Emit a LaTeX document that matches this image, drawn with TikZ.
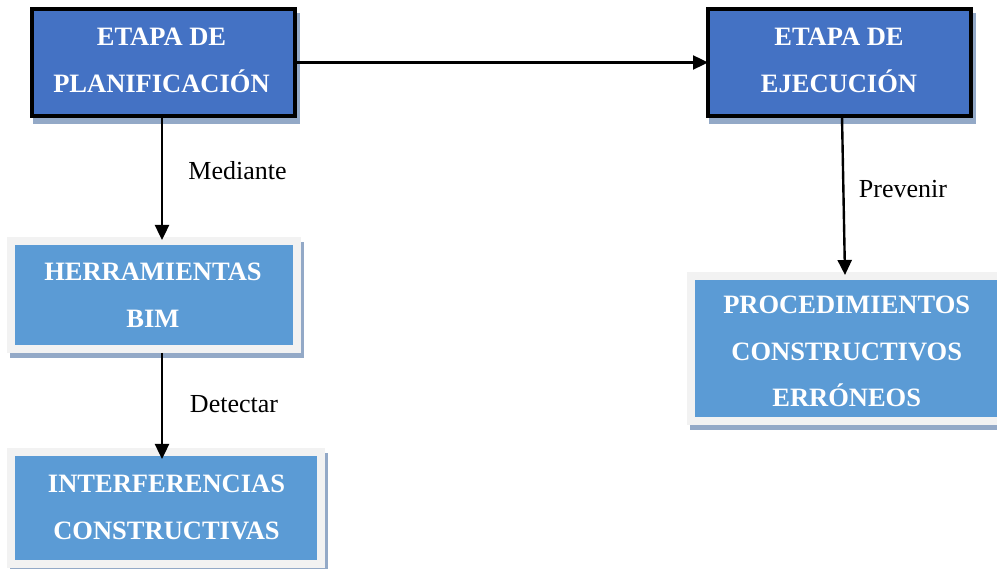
\documentclass[tikz,border=0pt]{standalone}
\usepackage{fontspec}
\setmainfont{Liberation Serif}
\usetikzlibrary{arrows.meta,backgrounds,calc}
\definecolor{darkblue}{HTML}{4472C4}
\definecolor{lightblue}{HTML}{5B9BD5}
\definecolor{framegrey}{HTML}{F2F2F2}
\definecolor{shadowc}{HTML}{93A9C7}
\begin{document}
\begin{tikzpicture}[x=1pt,y=-1pt,
  darkbox/.style={draw=black, line width=4pt, fill=darkblue, minimum width=263pt, minimum height=107pt, inner sep=0pt, outer sep=0pt},
  lightbox/.style={fill=framegrey, inner sep=0pt, outer sep=0pt},
  boxtext/.style={text=white, align=center, font=\fontsize{26.5}{46.5}\selectfont\bfseries, inner sep=0pt},
  lbl/.style={font=\fontsize{26}{30}\selectfont, anchor=base, inner sep=0pt},
  conn/.style={line width=2.4pt, -{Triangle[width=14pt,length=15pt]}}
]
\useasboundingbox (0,0) rectangle (997,569);

% boxes
\node[darkbox] (p) at (163.5,62.5) {};
\node[darkbox] (e) at (839.5,62.5) {};
\node[lightbox, minimum width=294pt, minimum height=116pt] (h) at (154,295) {};
\node[lightbox, minimum width=318pt, minimum height=120pt] (i) at (166,508) {};
\node[lightbox, minimum width=319pt, minimum height=153pt] (r) at (846.5,348.5) {};

\fill[lightblue] ([shift={(8,8)}]h.north west) rectangle ([shift={(-8,-8)}]h.south east);
\fill[lightblue] ([shift={(8,8)}]i.north west) rectangle ([shift={(-8,-8)}]i.south east);
\fill[lightblue] ([shift={(8,8)}]r.north west) rectangle ([shift={(-8,-8)}]r.south east);

% shadows
\begin{scope}[on background layer]
\fill[shadowc] ([shift={(1,4)}]p.north west) rectangle ([shift={(5,8)}]p.south east);
\fill[shadowc] ([shift={(1,4)}]e.north west) rectangle ([shift={(5,8)}]e.south east);
\fill[shadowc] ([shift={(3,5)}]h.north west) rectangle ([shift={(3,5)}]h.south east);
\fill[shadowc] ([shift={(3,5)}]i.north west) rectangle ([shift={(3,5)}]i.south east);
\fill[shadowc] ([shift={(3,5)}]r.north west) rectangle ([shift={(3,5)}]r.south east);
\end{scope}

% texts
\node[boxtext] (pt) at (161.5,60.5) {ETAPA DE\\PLANIFICACIÓN};
\node[boxtext] (et) at (839,60.5) {ETAPA DE\\EJECUCIÓN};
\node[boxtext] (ht) at (153,295.5) {HERRAMIENTAS\\BIM};
\node[boxtext] (it) at (166.5,507.5) {INTERFERENCIAS\\CONSTRUCTIVAS};
\node[boxtext] (rt) at (846.7,351.5) {PROCEDIMIENTOS\\CONSTRUCTIVOS\\ERRÓNEOS};

% connectors
\draw[conn] (p.east) -- (e.west);
\draw[conn] ($(p.south)+(-1.5,0)$) -- ($(h.north)+(8,3)$);
\draw[conn] ($(h.south)+(8,0)$) -- ($(i.north)+(-4,11)$);
\draw[conn] ($(e.south)+(2.5,0)$) -- ($(r.north)+(-1.5,3)$);

% labels
\node[lbl] (l1) at (237.5,180) {Mediante};
\node[lbl] (l2) at (234,413) {Detectar};
\node[lbl] (l3) at (903,198) {Prevenir};
\end{tikzpicture}
\end{document}
